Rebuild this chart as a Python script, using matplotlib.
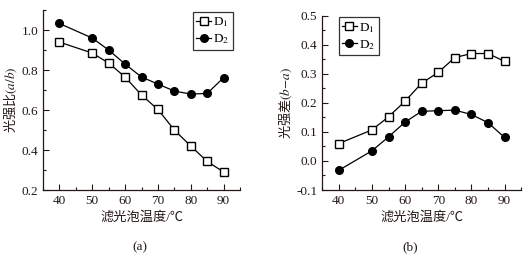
import matplotlib
matplotlib.use("Agg")
import matplotlib.pyplot as plt
from matplotlib.ticker import MultipleLocator

plt.rcParams['font.family'] = ['Liberation Serif', 'Noto Sans CJK SC']
plt.rcParams['mathtext.fontset'] = 'stix'

temps = [40, 50, 55, 60, 65, 70, 75, 80, 85, 90]
ratio_d1 = [0.94, 0.885, 0.835, 0.765, 0.675, 0.603, 0.50, 0.42, 0.343, 0.29]
ratio_d2 = [1.033, 0.96, 0.90, 0.83, 0.765, 0.73, 0.695, 0.68, 0.683, 0.762]
diff_d1 = [0.06, 0.107, 0.152, 0.206, 0.268, 0.305, 0.356, 0.37, 0.37, 0.343]
diff_d2 = [-0.032, 0.035, 0.083, 0.134, 0.171, 0.173, 0.175, 0.16, 0.132, 0.081]
series_names = ['D$_1$', 'D$_2$']
xlabel = '滤光泡温度/℃'
ylabel_a = '光强比$(a/b)$'
ylabel_b = '光强差$(b{-}a)$'
panel_labels = ['(a)', '(b)']
yticks_b = [-0.1, 0.0, 0.1, 0.2, 0.3, 0.4, 0.5]
yticklabels_b = ['-0.1', '0.0', '0.1', '0.2', '0.3', '0.4', '0.5']

txt = '#231815'
fig = plt.figure(figsize=(5.26, 2.57), dpi=100)
ax1 = fig.add_axes([0.0818, 0.2607, 0.3745, 0.700])
ax2 = fig.add_axes([0.6127, 0.2607, 0.378, 0.678])

def style(ax):
    for s in ['top', 'right']:
        ax.spines[s].set_visible(False)
    for s in ['left', 'bottom']:
        ax.spines[s].set_linewidth(0.9)
        ax.spines[s].set_color(txt)
    ax.tick_params(which='both', direction='in', colors=txt, labelsize=9.5, width=0.8)
    ax.tick_params(which='major', length=4)
    ax.tick_params(which='minor', length=2.5)
    ax.xaxis.set_major_locator(MultipleLocator(10))
    ax.xaxis.set_minor_locator(MultipleLocator(5))
    ax.set_xlim(35, 95)
    ax.set_xlabel(xlabel, fontsize=9.5, color=txt, labelpad=3)

leg_kw = dict(fontsize=9.5, frameon=True, fancybox=False, edgecolor='black',
              handlelength=1.1, handletextpad=0.2, borderpad=0.25,
              labelspacing=0.25, borderaxespad=0.0)

mk = dict(color='black', lw=0.9, markersize=5.5)
ax1.plot(temps, ratio_d1, marker='s', mfc='white', mec='black', label=series_names[0], **mk)
ax1.plot(temps, ratio_d2, marker='o', mfc='black', mec='black', label=series_names[1], **mk)
style(ax1)
ax1.set_ylim(0.2, 1.1)
ax1.yaxis.set_major_locator(MultipleLocator(0.2))
ax1.yaxis.set_minor_locator(MultipleLocator(0.1))
ax1.set_ylabel(ylabel_a, fontsize=9.5, color=txt, labelpad=2, family='Noto Sans CJK SC')
leg1 = ax1.legend(loc='upper left', bbox_to_anchor=(150 / 197, 0.988), **leg_kw)
leg1.get_frame().set_linewidth(0.9)

ax2.plot(temps, diff_d1, marker='s', mfc='white', mec='black', label=series_names[0], **mk)
ax2.plot(temps, diff_d2, marker='o', mfc='black', mec='black', label=series_names[1], **mk)
style(ax2)
ax2.set_ylim(-0.1, 0.5)
ax2.yaxis.set_minor_locator(MultipleLocator(0.05))
ax2.set_yticks(yticks_b)
ax2.set_yticklabels(yticklabels_b)
ax2.set_ylabel(ylabel_b, fontsize=9.5, color=txt, labelpad=2, family='Noto Sans CJK SC')
leg2 = ax2.legend(loc='upper left', bbox_to_anchor=(16.5 / 199, 0.99), **leg_kw)
leg2.get_frame().set_linewidth(0.9)

fig.text(140 / 526, 1 - 247 / 257, panel_labels[0], ha='center', va='center', fontsize=9.5, color=txt)
fig.text(410 / 526, 1 - 247 / 257, panel_labels[1], ha='center', va='center', fontsize=9.5, color=txt)

fig.savefig('out.png', dpi=100)
